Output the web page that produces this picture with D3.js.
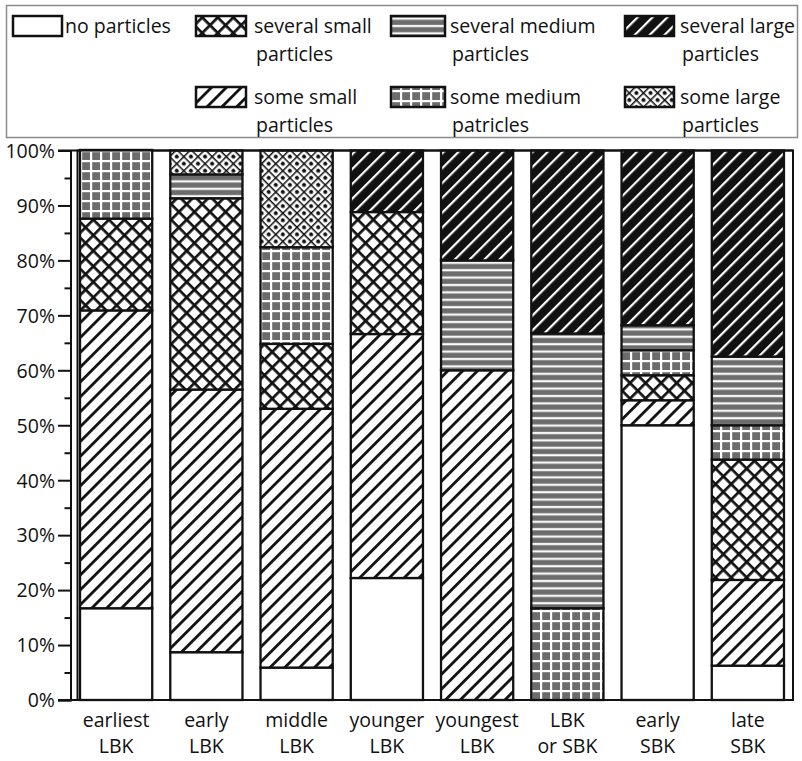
<!DOCTYPE html>
<html><head><meta charset="utf-8">
<script src="https://cdn.jsdelivr.net/npm/d3@7"></script>
<style>
html,body{margin:0;padding:0;background:#fff;}
text{font-family:"Open Sans","Noto Sans",sans-serif;fill:#111;}
</style></head>
<body>
<svg id="chart" width="802" height="761"></svg>
<script>
// ---- data ----
const categoriesLine1 = ["earliest","early","middle","younger","youngest","LBK","early","late"];
const categoriesLine2 = ["LBK","LBK","LBK","LBK","LBK","or SBK","SBK","SBK"];
const categories = categoriesLine1.map((d,i)=>d+" "+categoriesLine2[i]);

const noParticles    = [16.7, 8.7, 5.9, 22.2, 0, 0, 50, 6.25];
const someSmall      = [54.2, 47.8, 47.1, 44.4, 60, 0, 4.55, 15.6];
const severalSmall   = [16.7, 34.8, 11.8, 22.2, 0, 0, 4.55, 21.9];
const someMedium     = [12.5, 0, 17.6, 0, 0, 16.7, 4.55, 6.25];
const severalMedium  = [0, 4.35, 0, 0, 20, 50, 4.55, 12.5];
const someLarge      = [0, 4.35, 17.6, 0, 0, 0, 0, 0];
const severalLarge   = [0, 0, 0, 11.2, 20, 33.3, 31.8, 37.5];

const seriesKeys = ["none","someSmall","severalSmall","someMedium","severalMedium","someLarge","severalLarge"];
const seriesValues = [noParticles, someSmall, severalSmall, someMedium, severalMedium, someLarge, severalLarge];

const majorTicks = [0,10,20,30,40,50,60,70,80,90,100];
const minorTicks = [5,15,25,35,45,55,65,75,85,95];

// legend
const legendKeys   = ["none","severalSmall","severalMedium","severalLarge","someSmall","someMedium","someLarge"];
const legendLine1  = ["no particles","several small","several medium","several large","some small","some medium","some large"];
const legendLine2  = ["","particles","particles","particles","particles","patricles","particles"];

// ---- build ----
const svg = d3.select("#chart");
const defs = svg.append("defs");
const GRAY = "#6c6c6c";

function pat(id, w, h, rot){
  const p = defs.append("pattern").attr("id",id).attr("patternUnits","userSpaceOnUse")
    .attr("width",w).attr("height",h);
  if(rot) p.attr("patternTransform","rotate("+rot+")");
  return p;
}
// some small: "/" lines black on white
let p = pat("p-someSmall", 10.5, 10, 45);
p.append("rect").attr("width",10.5).attr("height",10).attr("fill","#fff");
p.append("rect").attr("x",0).attr("width",2.8).attr("height",10).attr("fill","#111");
// several small: crosshatch
p = pat("p-severalSmall", 11, 11, 45);
p.append("rect").attr("width",11).attr("height",11).attr("fill","#fff");
p.append("rect").attr("width",2.7).attr("height",11).attr("fill","#111");
p.append("rect").attr("width",11).attr("height",2.7).attr("fill","#111");
// some medium: gray squares with white grid
p = pat("p-someMedium", 10, 10, 0);
p.append("rect").attr("width",10).attr("height",10).attr("fill",GRAY);
p.append("rect").attr("x",0).attr("width",2.2).attr("height",10).attr("fill","#fff");
p.append("rect").attr("y",0).attr("width",10).attr("height",2.2).attr("fill","#fff");
// several medium: horizontal stripes
p = pat("p-severalMedium", 10, 7.4, 0);
p.append("rect").attr("width",10).attr("height",7.4).attr("fill",GRAY);
p.append("rect").attr("y",2.6).attr("width",10).attr("height",2.4).attr("fill","#ddd");
p.append("rect").attr("y",3.1).attr("width",10).attr("height",1.4).attr("fill","#fff");
// some large: crosshatch with dots
p = pat("p-someLarge", 10, 10, 45);
p.append("rect").attr("width",10).attr("height",10).attr("fill","#fff");
p.append("rect").attr("width",1.5).attr("height",10).attr("fill","#111");
p.append("rect").attr("width",10).attr("height",1.5).attr("fill","#111");
p.append("circle").attr("cx",5.75).attr("cy",5.75).attr("r",2.1).attr("fill","#111");
// several large: white "/" lines on black
p = pat("p-severalLarge", 10.5, 10, 45);
p.append("rect").attr("width",10.5).attr("height",10).attr("fill","#111");
p.append("rect").attr("x",0).attr("width",2.2).attr("height",10).attr("fill","#fff");

const fillFor = k => k==="none" ? "#fff" : "url(#p-"+k+")";

// scales
const x = d3.scaleBand().domain(categories).range([71,793]).paddingInner(0.2).paddingOuter(0.1);
const y = d3.scaleLinear().domain([0,100]).range([700,150.5]);

const table = categories.map((c,i)=>{
  const o = {cat:c};
  seriesKeys.forEach((k,j)=>o[k]=seriesValues[j][i]);
  return o;
});
const stacked = d3.stack().keys(seriesKeys)(table);

// plot frame
svg.append("rect").attr("x",77.5).attr("y",150.5).attr("width",793-77.5).attr("height",700-150.5)
  .attr("fill","#fff").attr("stroke","#111").attr("stroke-width",2);

// bars
const layers = svg.append("g").selectAll("g").data(stacked).join("g")
  .attr("fill", d=>fillFor(d.key));
layers.selectAll("rect").data(d=>d.filter(s=>s[1]-s[0]>0)).join("rect")
  .attr("x", d=>x(d.data.cat))
  .attr("width", x.bandwidth())
  .attr("y", d=>y(d[1]))
  .attr("height", d=>y(d[0])-y(d[1]))
  .attr("stroke","#111").attr("stroke-width",2.3);

// y axis
const yAxis = svg.append("g").attr("transform","translate(70.5,0)")
  .call(d3.axisLeft(y).tickValues(majorTicks).tickSize(12.5).tickPadding(3).tickFormat(d=>d+"%"));
yAxis.select(".domain").attr("stroke","#111").attr("stroke-width",2);
yAxis.selectAll(".tick line").attr("stroke","#111").attr("stroke-width",2);
yAxis.selectAll(".tick text").attr("font-size",19.5).attr("font-family","Open Sans").attr("fill","#111").attr("dy","0.35em");
const yMinor = svg.append("g").attr("transform","translate(70.5,0)")
  .call(d3.axisLeft(y).tickValues(minorTicks).tickSize(6).tickFormat(""));
yMinor.select(".domain").remove();
yMinor.selectAll(".tick line").attr("stroke","#111").attr("stroke-width",2);

svg.append("line").attr("x1",58).attr("x2",793).attr("y1",y(0)).attr("y2",y(0)).attr("stroke","#111").attr("stroke-width",2.2);
svg.append("line").attr("x1",58).attr("x2",793).attr("y1",y(100)).attr("y2",y(100)).attr("stroke","#111").attr("stroke-width",2.2);

// category labels
const catG = svg.append("g");
categories.forEach((c,i)=>{
  const cx = x(c)+x.bandwidth()/2;
  catG.append("text").attr("x",cx).attr("y",727).attr("text-anchor","middle").attr("font-size",19.5).text(categoriesLine1[i]);
  catG.append("text").attr("x",cx).attr("y",753).attr("text-anchor","middle").attr("font-size",19.5).text(categoriesLine2[i]);
});

// legend
svg.append("rect").attr("x",6.5).attr("y",5.5).attr("width",791).attr("height",132)
  .attr("fill","#fff").attr("stroke","#8a8a8a").attr("stroke-width",1.5);
const legCols = {none:0, severalSmall:1, someSmall:1, severalMedium:2, someMedium:2, severalLarge:3, someLarge:3};
const legRow = {none:0, severalSmall:0, severalMedium:0, severalLarge:0, someSmall:1, someMedium:1, someLarge:1};
const swX = [13, 196, 391, 625];
const swW = [49, 50, 54, 49];
const txX = [65, 254, 450, 680];
const rowTop = [16, 87];
legendKeys.forEach((k,i)=>{
  const c = legCols[k], r = legRow[k];
  svg.append("rect").attr("x",swX[c]).attr("y",rowTop[r]).attr("width",swW[c]).attr("height",20)
    .attr("fill",fillFor(k)).attr("stroke","#111").attr("stroke-width",2.5);
  svg.append("text").attr("x",txX[c]).attr("y",rowTop[r]+17).attr("font-size",19.5).text(legendLine1[i]);
  if(legendLine2[i]) svg.append("text").attr("x",txX[c]+2).attr("y",rowTop[r]+45).attr("font-size",19.5).text(legendLine2[i]);
});
</script>
</body></html>
